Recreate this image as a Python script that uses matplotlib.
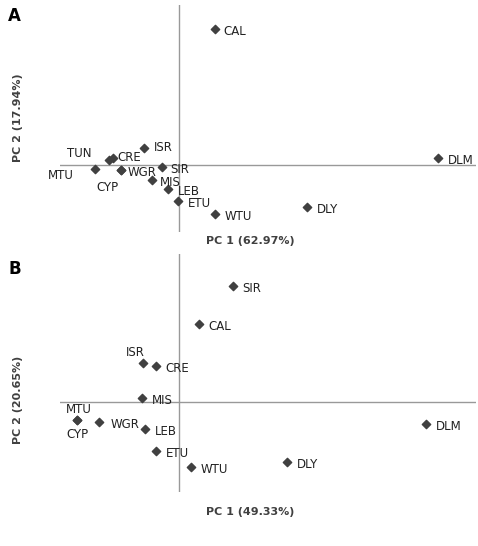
import matplotlib.pyplot as plt

# panel A: scores (pixel-read, origin at axis crossing)
labels_a = ["CAL", "DLM", "DLY", "WTU", "ETU", "LEB", "MIS", "SIR", "ISR", "CRE", "TUN", "WGR", "CYP", "MTU"]
pc1_a = [36, 259, 128, 36, -1, -11, -27, -17, -35, -66, -70, -58, -58, -84]
pc2_a = [136, 7, -42, -49, -36, -24, -15, -2, 17, 7, 5, -5, -5, -4]

# panel B
labels_b = ["SIR", "CAL", "ISR", "CRE", "MIS", "MTU", "CYP", "WGR", "LEB", "ETU", "WTU", "DLY", "DLM"]
pc1_b = [54, 20, -36, -23, -37, -102, -102, -80, -34, -23, 12, 108, 247]
pc2_b = [116, 78, 39, 36, 4, -18, -18, -20, -27, -49, -65, -60, -22]

# label offsets in points
off_a = {"CAL": (6, -4), "DLM": (7, -4), "DLY": (7, -4), "WTU": (7, -4), "ETU": (7, -4),
         "LEB": (7, -4), "MIS": (6, -4), "SIR": (6, -4), "ISR": (7, -2), "CRE": (3, -2),
         "TUN": (-30, 2), "WGR": (5, -4), "CYP": (-18, -15), "MTU": (-34, -7)}
off_b = {"SIR": (7, -4), "CAL": (7, -4), "ISR": (-12, 5), "CRE": (7, -4), "MIS": (7, -4),
         "MTU": (-8, 5), "CYP": (-8, -13), "WGR": (8, -4), "LEB": (7, -4), "ETU": (7, -4),
         "WTU": (7, -4), "DLY": (7, -4), "DLM": (7, -4)}

fig = plt.figure(figsize=(4.78, 5.46), dpi=100)
W, H = 478, 546
mk = "#404040"


def panel(rect, xs, ys, labels, offs, xlim, ylim, xlab, ylab, letter, lab_pos, letter_pos):
    ax = fig.add_axes(rect)
    ax.axhline(0, color="#999999", lw=1)
    ax.axvline(0, color="#999999", lw=1)
    ax.scatter(xs, ys, marker="D", s=18, color=mk, zorder=3)
    for x, y, t in zip(xs, ys, labels):
        ax.annotate(t, (x, y), xytext=offs[t], textcoords="offset points", fontsize=8.5, color="#222222")
    ax.set_xlim(xlim)
    ax.set_ylim(ylim)
    ax.axis("off")
    fig.text(lab_pos[0][0] / W, 1 - lab_pos[0][1] / H, xlab, fontsize=8, fontweight="bold", color="#404040", ha="center", va="center")
    fig.text(lab_pos[1][0] / W, 1 - lab_pos[1][1] / H, ylab, fontsize=8, fontweight="bold", color="#404040", ha="center", va="center", rotation=90)
    fig.text(letter_pos[0] / W, 1 - letter_pos[1] / H, letter, fontsize=12, fontweight="bold", ha="left", va="center")


panel([60 / W, 1 - 232 / H, 416 / W, 227 / H], pc1_a, pc2_a, labels_a, off_a,
      (-119, 297), (-67, 160), "PC 1 (62.97%)", "PC 2 (17.94%)", "A",
      ((250, 241), (18, 118)), (8, 16))
panel([60 / W, 1 - 492 / H, 416 / W, 238 / H], pc1_b, pc2_b, labels_b, off_b,
      (-119, 297), (-90, 148), "PC 1 (49.33%)", "PC 2 (20.65%)", "B",
      ((250, 512), (18, 400)), (8, 269))

fig.savefig("out.png", dpi=100)
